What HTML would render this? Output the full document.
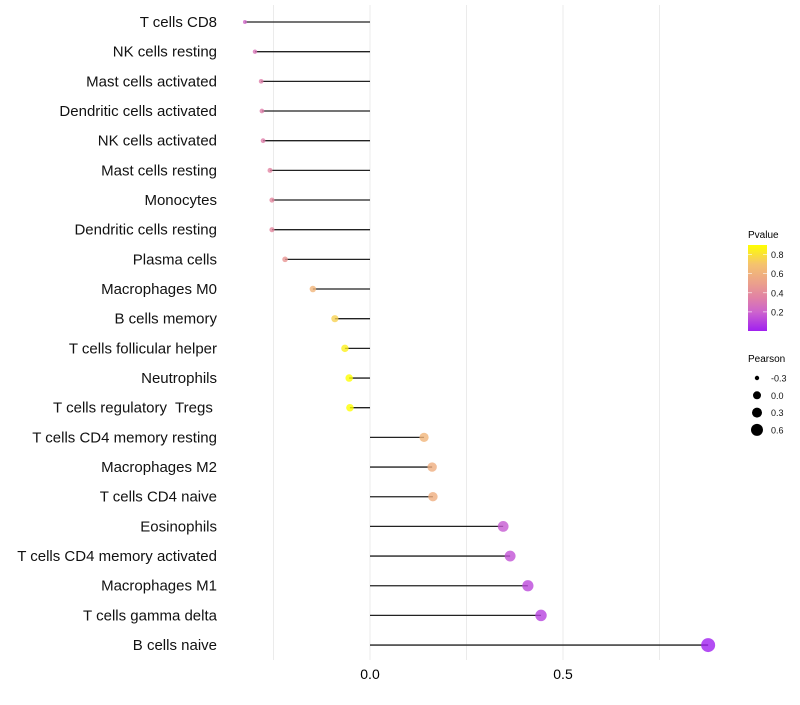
<!DOCTYPE html>
<html><head><meta charset="utf-8"><style>
body{margin:0;background:#fff;font-family:"Liberation Sans",sans-serif;}
svg text{font-family:"Liberation Sans",sans-serif;white-space:pre;}
</style></head><body>
<svg id="chart" width="800" height="700"></svg>
<script>
const categories=["T cells CD8","NK cells resting","Mast cells activated","Dendritic cells activated","NK cells activated","Mast cells resting","Monocytes","Dendritic cells resting","Plasma cells","Macrophages M0","B cells memory","T cells follicular helper","Neutrophils","T cells regulatory  Tregs ","T cells CD4 memory resting","Macrophages M2","T cells CD4 naive","Eosinophils","T cells CD4 memory activated","Macrophages M1","T cells gamma delta","B cells naive"];
const pearson=[-0.324,-0.298,-0.282,-0.280,-0.277,-0.259,-0.254,-0.254,-0.220,-0.148,-0.091,-0.065,-0.054,-0.052,0.140,0.161,0.163,0.345,0.363,0.409,0.443,0.876];
const pvalue=[0.22,0.28,0.33,0.33,0.33,0.36,0.38,0.38,0.45,0.62,0.75,0.85,0.9,0.9,0.62,0.58,0.58,0.17,0.15,0.12,0.1,0.001];
const xTicks=[0,0.5];
const xGrid=[-0.25,0,0.25,0.5,0.75];
const cbTicks=[0.2,0.4,0.6,0.8];
const sizeTicks=[-0.3,0.0,0.3,0.6];

const NS="http://www.w3.org/2000/svg";
const svg=document.getElementById('chart');
function mk(t,a,p){const e=document.createElementNS(NS,t);for(const k in a)e.setAttribute(k,a[k]);(p||svg).appendChild(e);return e;}
const xS=v=>370+v*386;
const yS=i=>22+i*29.67;
const rS=v=>Math.sqrt(Math.max(3,16.1+37.6*v));
const stops=[[0,[160,32,240]],[0.2,[205,100,205]],[0.35,[225,130,165]],[0.5,[235,160,140]],[0.7,[245,195,110]],[0.9,[255,255,0]]];
function col(p){p=Math.max(0,Math.min(0.9,p));for(let i=1;i<stops.length;i++){if(p<=stops[i][0]){const a=stops[i-1],b=stops[i];const t=(p-a[0])/(b[0]-a[0]);const c=a[1].map((v,k)=>Math.round(v+(b[1][k]-v)*t));return `rgb(${c.join(',')})`;}}return 'rgb(255,255,0)';}

xGrid.forEach(v=>{const l=mk('line',{x1:xS(v),x2:xS(v),y1:5,y2:660,stroke:'#ebebeb','stroke-width':1});

});
xTicks.forEach(v=>{const t=mk('text',{x:xS(v),y:679,'text-anchor':'middle','font-size':14,fill:'#000'});t.textContent=v.toFixed(1);

});

categories.forEach((c,i)=>{
 const y=yS(i);
 const t=mk('text',{x:217,y:y+5,'text-anchor':'end','font-size':15,fill:'#111'});t.textContent=c;
 
 
 const l=mk('line',{x1:xS(0),x2:xS(pearson[i]),y1:y,y2:y,stroke:'#222','stroke-width':1.3});
 
 
 const d=mk('circle',{cx:xS(pearson[i]),cy:y,r:rS(pearson[i]),fill:col(pvalue[i]),'fill-opacity':0.8});
 
 
});

const lg=mk('g',{});


const tt=mk('text',{x:748,y:238,'font-size':10,fill:'#000'},lg);tt.textContent='Pvalue';
const defs=mk('defs',{});const g=mk('linearGradient',{id:'cb',x1:0,y1:1,x2:0,y2:0},defs);
stops.forEach(s=>mk('stop',{offset:s[0]/0.9,'stop-color':`rgb(${s[1].join(',')})`},g));
mk('rect',{x:748,y:245,width:19,height:86,fill:'url(#cb)'},lg);
const cbY=p=>331-p*95.5;
cbTicks.forEach(p=>{mk('line',{x1:748,x2:752,y1:cbY(p),y2:cbY(p),stroke:'#fff','stroke-width':0.6},lg);mk('line',{x1:763,x2:767,y1:cbY(p),y2:cbY(p),stroke:'#fff','stroke-width':0.6},lg);
 const t=mk('text',{x:771,y:cbY(p)+3.5,'font-size':9,fill:'#111'},lg);t.textContent=p.toFixed(1);});

const sg=mk('g',{});


const st=mk('text',{x:748,y:362,'font-size':10,fill:'#000'},sg);st.textContent='Pearson';
sizeTicks.forEach((v,i)=>{const y=378+i*17.3;mk('circle',{cx:757,cy:y,r:[2.2,4,5,6][i],fill:'#000'},sg);
 const t=mk('text',{x:771,y:y+3.5,'font-size':9,fill:'#111'},sg);t.textContent=v.toFixed(1);});
</script>
</body></html>
